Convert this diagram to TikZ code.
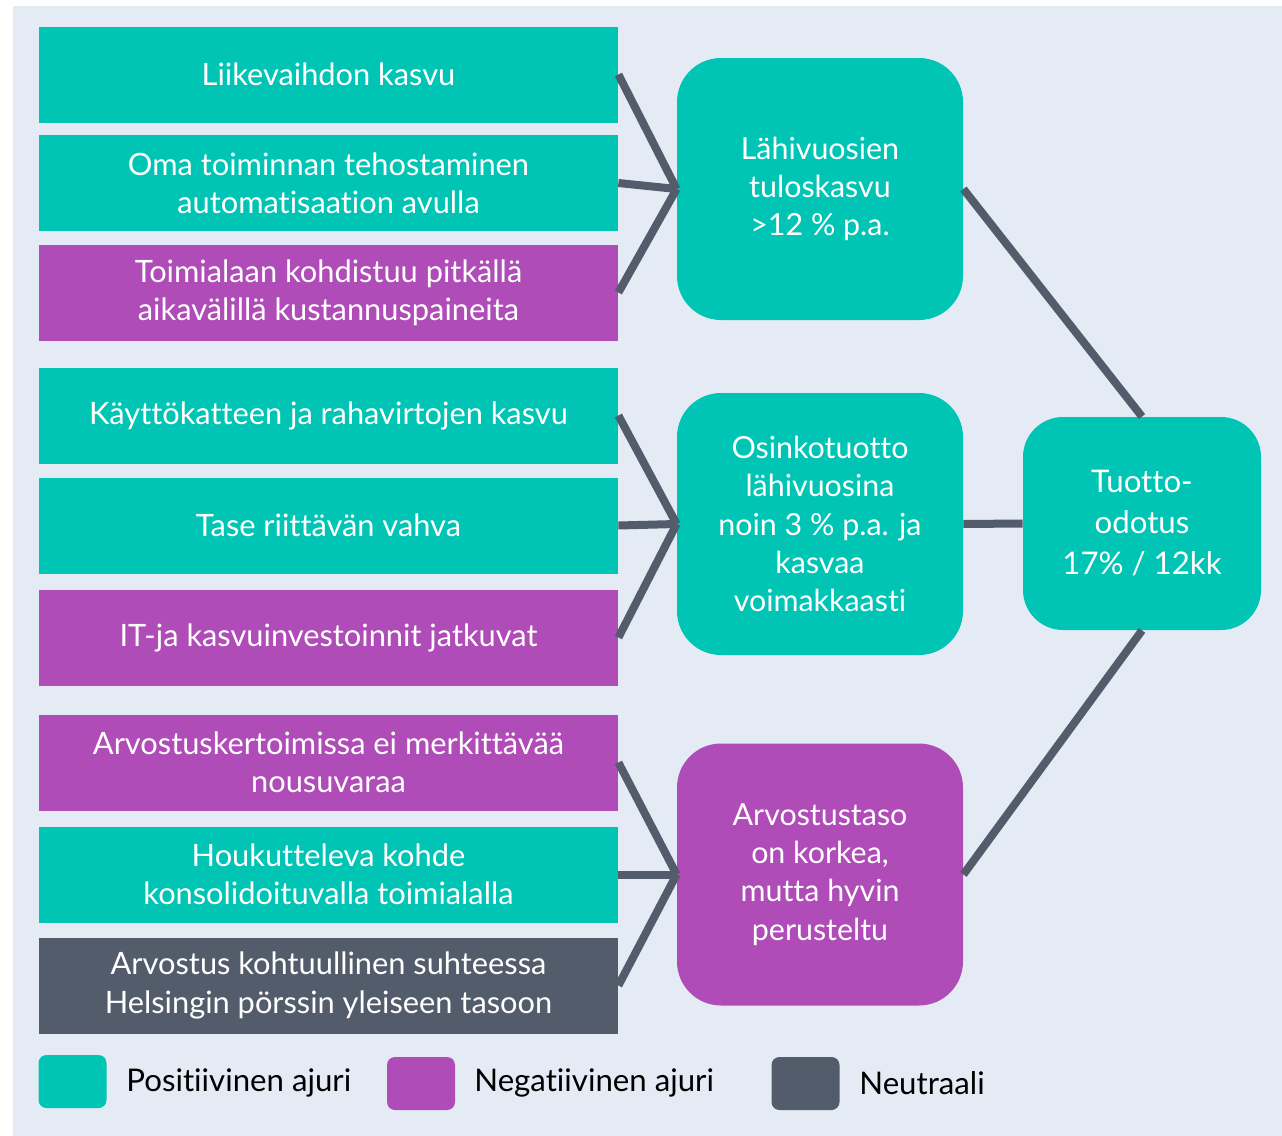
\documentclass[tikz,border=0pt]{standalone}
\usepackage{fontspec}
\setmainfont{Lato}[Ligatures={NoCommon}]
\usepackage{xcolor}
\usepackage{tikz}
\definecolor{bgblue}{HTML}{E4EBF5}
\definecolor{posgreen}{HTML}{00C5B5}
\definecolor{negpurple}{HTML}{B04CB8}
\definecolor{neutgray}{HTML}{535C6B}

\begin{document}
\begin{tikzpicture}[x=0.5pt,y=-0.5pt,
        driver/.style={minimum width=289.5pt, minimum height=48pt, inner sep=0pt,
                align=center, text=white, font=\fontsize{15.4}{19.2}\selectfont},
        posdriver/.style={driver, fill=posgreen},
        negdriver/.style={driver, fill=negpurple},
        neutdriver/.style={driver, fill=neutgray},
        result/.style={minimum width=143pt, minimum height=131pt, inner sep=0pt,
                rounded corners=22pt, align=center, text=white,
                font=\fontsize{15.2}{19.2}\selectfont},
        link/.style={draw=neutgray, line width=4pt},
        legbox/.style={minimum width=34pt, minimum height=26.5pt, inner sep=0pt,
                rounded corners=4pt},
        legtext/.style={anchor=west, inner sep=0pt, font=\fontsize{15.6}{19}\selectfont}]
                \useasboundingbox (0,0) rectangle (1282,1136);
                \fill[bgblue] (13,6) rectangle (1282,1136);
                % left column: drivers
                \node[posdriver] (liike) at (328.5,74.5) {Liikevaihdon kasvu};
                \node[posdriver] (oma) at (328.5,183) {Oma toiminnan tehostaminen\\automatisaation avulla};
                \node[negdriver] (toimi) at (328.5,292.5) {Toimialaan kohdistuu pitkällä\\aikavälillä kustannuspaineita};
                \node[posdriver] (kayt) at (328.5,415.5) {Käyttökatteen ja rahavirtojen kasvu};
                \node[posdriver] (tase) at (328.5,525.5) {Tase riittävän vahva};
                \node[negdriver] (itja) at (328.5,637.5) {IT-ja kasvuinvestoinnit jatkuvat};
                \node[negdriver] (arvk) at (328.5,762.5) {Arvostuskertoimissa ei merkittävää\\nousuvaraa};
                \node[posdriver] (houk) at (328.5,874.5) {Houkutteleva kohde\\konsolidoituvalla toimialalla};
                \node[neutdriver] (arvh) at (328.5,985.5) {Arvostus kohtuullinen suhteessa\\Helsingin pörssin yleiseen tasoon};
                % middle column
                \node[result, fill=posgreen] (tulos) at (820,189) {Lähivuosien\\tuloskasvu\\>12 \% p.a.};
                \node[result, fill=posgreen] (osinko) at (820,524) {Osinkotuotto\\lähivuosina\\noin 3 \% p.a. ja\\kasvaa\\voimakkaasti};
                \node[result, fill=negpurple] (taso) at (820,874.5) {Arvostustaso\\on korkea,\\mutta hyvin\\perusteltu};
                % right
                \node[result, fill=posgreen, minimum width=119pt, minimum height=106.5pt,
                        rounded corners=20pt, font=\fontsize{15.6}{20.5}\selectfont] (tuotto) at (1142,523.5) {Tuotto-\\odotus\\17\% / 12kk};
                % links
                \draw[link] (liike.east) -- (tulos.west);
                \draw[link] (oma.east) -- (tulos.west);
                \draw[link] (toimi.east) -- (tulos.west);
                \draw[link] (kayt.east) -- (osinko.west);
                \draw[link] (tase.east) -- (osinko.west);
                \draw[link] (itja.east) -- (osinko.west);
                \draw[link] (arvk.east) -- (taso.west);
                \draw[link] (houk.east) -- (taso.west);
                \draw[link] (arvh.east) -- (taso.west);
                \draw[link] (tulos.east) -- (tuotto.north);
                \draw[link] (osinko.east) -- (tuotto.west);
                \draw[link] (taso.east) -- (tuotto.south);
                % legend
                \node[legbox, fill=posgreen] (lpos) at (72.5,1081.5) {};
                \node[legtext] (tpos) at (126,1083) {Positiivinen ajuri};
                \node[legbox, fill=negpurple] (lneg) at (421,1083.5) {};
                \node[legtext] (tneg) at (474,1083) {Negatiivinen ajuri};
                \node[legbox, fill=neutgray] (lneut) at (805.5,1083.5) {};
                \node[legtext] (tneut) at (859,1083) {Neutraali};
            \end{tikzpicture}
\end{document}
